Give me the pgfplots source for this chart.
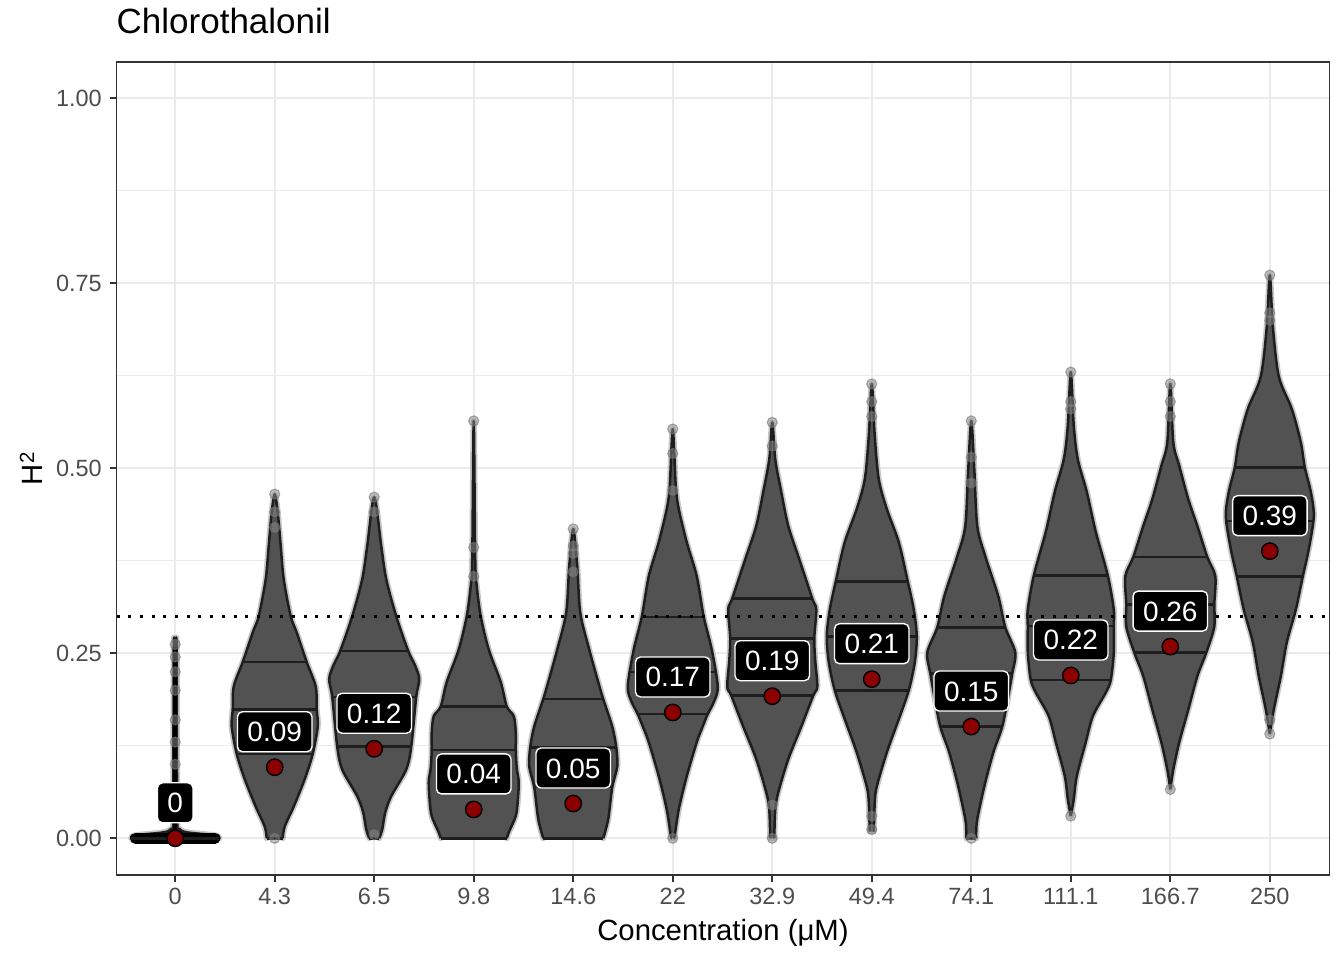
\documentclass[border=0pt]{standalone}
\usepackage{pgfplots}
\pgfplotsset{compat=1.18}
\usepackage{pgfplotstable}
\usepackage{fontspec}
\setmainfont{Liberation Sans}
\definecolor{gridc}{HTML}{EBEBEB}
\definecolor{axc}{HTML}{333333}
\definecolor{tickc}{HTML}{4D4D4D}
\definecolor{vfillc}{HTML}{525252}
\definecolor{voutc}{HTML}{1E1E1E}
\definecolor{dred}{HTML}{8B0000}

% violin outlines: y, signed half-width (px of a 99.5 px category step),
% right side bottom->top, then left side top->bottom
\pgfplotstableread{
y s
0 44
0.004 40
0.008 12
0.013 4
0.030 2
0.255 1.5
0.262 0
0.255 -1.5
0.030 -2
0.013 -4
0.008 -12
0.004 -40
0 -44
}\vZ
\pgfplotstableread{
y s
0 8
0.016 10
0.043 19
0.080 30
0.114 38
0.151 43
0.174 42
0.205 41
0.238 32
0.278 22
0.300 16
0.350 9
0.395 6
0.441 3
0.465 0
0.441 -3
0.395 -6
0.350 -9
0.300 -16
0.278 -22
0.238 -32
0.205 -41
0.174 -42
0.151 -43
0.114 -38
0.080 -30
0.043 -19
0.016 -10
0 -8
}\vA
\pgfplotstableread{
y s
0 5
0.012 8
0.035 11
0.057 17
0.093 32
0.124 37
0.191 42
0.215 45
0.233 41
0.253 34
0.300 22
0.350 12
0.395 7
0.461 0
0.395 -7
0.350 -12
0.300 -22
0.253 -34
0.233 -41
0.215 -45
0.191 -42
0.124 -37
0.093 -32
0.057 -17
0.035 -11
0.012 -8
0 -5
}\vB
\pgfplotstableread{
y s
0 33
0.008 35
0.030 42
0.050 44
0.076 45
0.095 43
0.119 42
0.143 42
0.165 40
0.178 33
0.211 27
0.255 15
0.300 7
0.341 3
0.377 1.5
0.564 0
0.377 -1.5
0.341 -3
0.300 -7
0.255 -15
0.211 -27
0.178 -33
0.165 -40
0.143 -42
0.119 -42
0.095 -43
0.076 -45
0.050 -44
0.030 -42
0.008 -35
0 -33
}\vC
\pgfplotstableread{
y s
0 30
0.026 35
0.069 39
0.097 44
0.123 43
0.151 39
0.188 30
0.211 25
0.255 16
0.305 7
0.368 4
0.418 0
0.368 -4
0.305 -7
0.255 -16
0.211 -25
0.188 -30
0.151 -39
0.123 -43
0.097 -44
0.069 -39
0.026 -35
0 -30
}\vD
\pgfplotstableread{
y s
0 1
0.004 2
0.039 6
0.084 14
0.130 24
0.148 29
0.168 35
0.184 41
0.205 45
0.255 39
0.299 31
0.354 24
0.400 14
0.445 6
0.476 3
0.553 0
0.476 -3
0.445 -6
0.400 -14
0.354 -24
0.299 -31
0.255 -39
0.205 -45
0.184 -41
0.168 -35
0.148 -29
0.130 -24
0.084 -14
0.039 -6
0.004 -2
0 -1
}\vE
\pgfplotstableread{
y s
0 2
0.039 3
0.062 6
0.107 16
0.151 29
0.193 41
0.205 45
0.240 43
0.270 42
0.309 44
0.324 40
0.377 27
0.422 16
0.468 9
0.512 3
0.562 0
0.512 -3
0.468 -9
0.422 -16
0.377 -27
0.324 -40
0.309 -44
0.270 -42
0.240 -43
0.205 -45
0.193 -41
0.151 -29
0.107 -16
0.062 -6
0.039 -3
0 -2
}\vF
\pgfplotstableread{
y s
0.009 2
0.049 3
0.070 5
0.116 15
0.161 27
0.200 37
0.238 43
0.273 45
0.309 42
0.347 36
0.400 27
0.445 15
0.485 7
0.543 3
0.614 0
0.543 -3
0.485 -7
0.445 -15
0.400 -27
0.347 -36
0.309 -42
0.273 -45
0.238 -43
0.200 -37
0.161 -27
0.116 -15
0.070 -5
0.049 -3
0.009 -2
}\vG
\pgfplotstableread{
y s
0 5
0.010 5
0.026 6
0.070 13
0.116 22
0.151 31
0.192 37
0.223 41
0.251 44
0.285 34
0.327 27
0.381 14
0.422 6
0.499 3
0.564 0
0.499 -3
0.422 -6
0.381 -14
0.327 -27
0.285 -34
0.251 -44
0.223 -41
0.192 -37
0.151 -31
0.116 -22
0.070 -13
0.026 -6
0.010 -5
0 -5
}\vH
\pgfplotstableread{
y s
0.030 0
0.053 3
0.084 6
0.130 15
0.165 22
0.197 35
0.214 40
0.251 43
0.287 43
0.309 43
0.355 37
0.414 25
0.468 16
0.512 7
0.557 3
0.630 0
0.557 -3
0.512 -7
0.468 -16
0.414 -25
0.355 -37
0.309 -43
0.287 -43
0.251 -43
0.214 -40
0.197 -35
0.165 -22
0.130 -15
0.084 -6
0.053 -3
0.030 0
}\vI
\pgfplotstableread{
y s
0.066 0
0.093 3
0.130 9
0.174 18
0.219 27
0.251 36
0.286 44
0.316 44
0.354 45
0.380 37
0.422 27
0.458 18
0.503 9
0.535 3
0.614 0
0.535 -3
0.503 -9
0.458 -18
0.422 -27
0.380 -37
0.354 -45
0.316 -44
0.286 -44
0.251 -36
0.219 -27
0.174 -18
0.130 -9
0.093 -3
0.066 0
}\vJ
\pgfplotstableread{
y s
0.141 0
0.174 4
0.219 11
0.265 17
0.309 26
0.354 33
0.391 39
0.435 44
0.468 41
0.501 35
0.535 31
0.580 22
0.624 9
0.692 3
0.761 0
0.692 -3
0.624 -9
0.580 -22
0.535 -31
0.501 -35
0.468 -41
0.435 -44
0.391 -39
0.354 -33
0.309 -26
0.265 -17
0.219 -11
0.174 -4
0.141 0
}\vK

% quantile lines and flat bottoms: x, y, half-width (px)
\pgfplotstableread{
x y w
0 0 44
1 0 8
1 0.114 38
1 0.174 42
1 0.238 32
2 0 5
2 0.124 37
2 0.191 42
2 0.253 34
3 0 33
3 0.119 42
3 0.178 33
4 0 30
4 0.069 39
4 0.123 43
4 0.188 30
5 0.168 35
5 0.225 43
5 0.299 31
6 0.193 41
6 0.270 42
6 0.324 40
7 0.200 37
7 0.273 45
7 0.347 36
8 0 5
8 0.151 31
8 0.223 41
8 0.285 34
9 0.214 40
9 0.287 43
9 0.355 37
10 0.251 36
10 0.316 44
10 0.380 37
11 0.354 33
11 0.429 44
11 0.501 35
}\hl

% point estimates and labels
\pgfplotstableread{
x m lab
0 0.000 0
1 0.096 0.09
2 0.121 0.12
3 0.039 0.04
4 0.047 0.05
5 0.170 0.17
6 0.192 0.19
7 0.215 0.21
8 0.151 0.15
9 0.220 0.22
10 0.259 0.26
11 0.388 0.39
}\summ

% outlying individual points
\pgfplotstableread{
x y
0 0.262
0 0.245
0 0.225
0 0.200
0 0.160
0 0.130
0 0.100
1 0.465
1 0.441
1 0.420
1 0.000
2 0.461
2 0.441
2 0.005
3 0.564
3 0.393
3 0.354
4 0.418
4 0.395
4 0.385
4 0.360
5 0.553
5 0.520
5 0.470
5 0.000
6 0.562
6 0.530
6 0.000
6 0.045
7 0.614
7 0.590
7 0.570
7 0.012
7 0.030
8 0.564
8 0.515
8 0.480
8 0.000
9 0.630
9 0.590
9 0.580
9 0.030
10 0.614
10 0.590
10 0.570
10 0.066
11 0.761
11 0.710
11 0.700
11 0.141
11 0.160
}\tips

\newcommand{\violin}[3]{%
  \addplot[draw=black!22, line width=6bp, line join=round, line cap=round, smooth, forget plot]
    table[x expr=#1+\thisrow{s}/99.5, y=y] {#2};
  \addplot[fill=#3, draw=voutc, line width=2.5bp, line join=round, smooth, forget plot]
    table[x expr=#1+\thisrow{s}/99.5, y=y] {#2};
}

\begin{document}
\begin{tikzpicture}
\path[use as bounding box] (0,0) rectangle (1344bp,960bp);
\begin{axis}[
  at={(116.5bp,85bp)}, anchor=south west,
  scale only axis, width=1213bp, height=813bp,
  xmin=-0.59, xmax=11.6, ymin=-0.0496, ymax=1.049,
  xtick={0,...,11},
  xticklabels={0,4.3,6.5,9.8,14.6,22,32.9,49.4,74.1,111.1,166.7,250},
  ytick={0,0.25,0.5,0.75,1},
  yticklabels={0.00,0.25,0.50,0.75,1.00},
  minor ytick={0.125,0.375,0.625,0.875},
  grid=both,
  major grid style={draw=gridc, line width=2bp},
  minor grid style={draw=gridc, line width=1.1bp},
  axis line style={draw=axc, line width=1.4bp},
  tick align=outside, major tick length=7bp, minor tick length=0pt,
  tick style={draw=axc, line width=1.8bp},
  xtick pos=bottom, ytick pos=left,
  ticklabel style={font=\fontsize{23.5bp}{27bp}\selectfont, text=tickc},
  xticklabel style={anchor=base, yshift=-23bp},
  yticklabel style={anchor=east, inner xsep=0pt, xshift=-7.5bp},
  xlabel={Concentration (μM)},
  ylabel={H\textsuperscript{2}},
  label style={font=\fontsize{29.3bp}{33bp}\selectfont},
  xlabel style={at={([yshift=-65bp]axis description cs:0.5,0)}, anchor=base},
  ylabel style={at={([xshift=-73.5bp]axis description cs:0,0.5)}, anchor=base},
  title={Chlorothalonil},
  title style={at={([yshift=23bp]axis description cs:0,1)}, anchor=base west, inner sep=0pt, font=\fontsize{35bp}{40bp}\selectfont},
]
\violin{0}{\vZ}{black}
\violin{1}{\vA}{vfillc}
\violin{2}{\vB}{vfillc}
\violin{3}{\vC}{vfillc}
\violin{4}{\vD}{vfillc}
\violin{5}{\vE}{vfillc}
\violin{6}{\vF}{vfillc}
\violin{7}{\vG}{vfillc}
\violin{8}{\vH}{vfillc}
\violin{9}{\vI}{vfillc}
\violin{10}{\vJ}{vfillc}
\violin{11}{\vK}{vfillc}
% dense points at zero for the control
\addplot[black, line width=11bp, line cap=round, forget plot] coordinates {(-0.40,0) (0.40,0)};
\addplot[black, line width=4.5bp, forget plot] coordinates {(0,0) (0,0.258)};
% outlying points
\addplot[only marks, mark=*, mark size=5bp, forget plot,
  mark options={fill=black!45, draw=black!55, fill opacity=0.5, draw opacity=0.6, line width=1.2bp}]
  table[x=x, y=y] {\tips};
% quantile lines and flat bottoms
\addplot[only marks, mark=*, mark size=0.5bp, color=voutc, forget plot,
  error bars/.cd, x dir=both, x explicit, error mark=none,
  error bar style={draw=voutc, line width=2.5bp, solid}]
  table[x=x, y=y, x error expr=\thisrow{w}/99.5] {\hl};
% threshold
\addplot[black, line width=3bp, dash pattern=on 3bp off 8.7bp, forget plot]
  coordinates {(-0.59,0.3) (11.6,0.3)};
% point estimates with labels
\addplot[only marks, mark=*, mark size=8.2bp, forget plot,
  mark options={fill=dred, draw=black, line width=1.4bp},
  point meta=explicit symbolic, nodes near coords,
  every node near coord/.append style={anchor=center, yshift=35.5bp, fill=black, draw=white,
    line width=1.4bp, rounded corners=5bp, text=white, font=\fontsize{28bp}{30bp}\selectfont,
    inner xsep=10bp, inner ysep=10bp, text height=20bp, text depth=0bp}]
  table[x=x, y=m, meta=lab] {\summ};
\end{axis}
\end{tikzpicture}
\end{document}
